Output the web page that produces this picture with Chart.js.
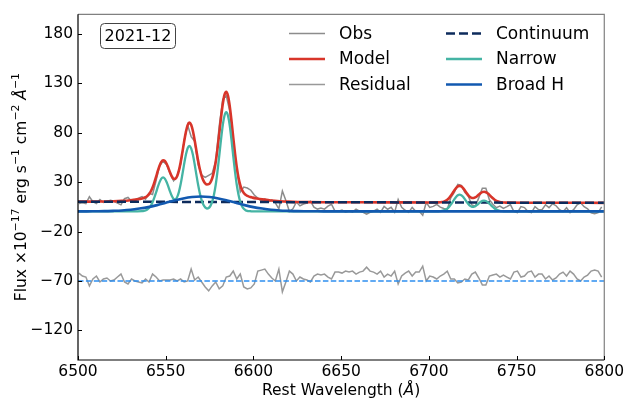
<!DOCTYPE html>
<html>
<head>
<meta charset="utf-8">
<script src="https://cdn.jsdelivr.net/npm/chart.js@4.4.1/dist/chart.umd.min.js"></script>
<style>
  html, body { margin: 0; padding: 0; background: #fff; }
  canvas { display: block; }
</style>
</head>
<body>
<canvas id="spec" width="627" height="399"></canvas>
<script>
// wavelength grids (Angstrom)
function waveGrid(start, stop, step) {
  const out = [];
  for (let w = start; w <= stop + 1e-9; w += step) out.push(+w.toFixed(2));
  return out;
}

const xTicks = [6500, 6550, 6600, 6650, 6700, 6750, 6800];
const yTicks = [-120, -70, -20, 30, 80, 130, 180];
const epochLabel = "2021-12";
const residualZero = -70;

// observed spectrum and residual (offset to -70), 2 A sampling
const obsWave = waveGrid(6500.5, 6798.5, 2);
const obsFlux = [
  8.3, 9.3, 8.3, 15.3, 10.4, 8.4, 12.4, 9.5, 10.5, 11.6,
  10.7, 8.9, 7.1, 13.3, 14.6, 10.9, 12.3, 13.8, 15.5, 12.8,
  18.9, 17.6, 31.3, 46.7, 51.3, 47.7, 38.8, 31.5, 36.1, 48.0,
  72.1, 87.8, 76.2, 71.4, 47.5, 37.2, 34.8, 37.0, 39.0, 51.5,
  86.8, 113.8, 117.6, 102.0, 65.2, 43.2, 20.1, 25.1, 24.1, 21.9,
  17.0, 14.0, 11.0, 13.0, 10.0, 12.0, 9.0, 3.0, 21.0, 11.4,
  0.3, 3.1, 10.0, 6.0, 7.9, 8.9, 10.8, 4.8, 2.8, 3.8,
  2.7, 5.7, 7.7, 0.7, 0.7, 1.7, -0.3, 0.7, -0.3, 2.7,
  0.7, -0.4, -2.4, -0.4, 0.6, 2.6, -0.4, 5.6, 2.6, 4.6,
  -0.4, 12.6, 4.6, 1.6, -0.5, 4.5, 0.5, 0.5, -3.5, 9.5,
  4.5, 5.5, 7.5, 4.7, 3.4, 2.3, 14.2, 19.6, 27.7, 26.7,
  19.7, 15.8, 7.0, 5.6, 14.4, 23.9, 23.9, 12.2, 7.7, 4.2,
  5.9, 3.5, 5.3, 7.3, 0.3, -0.7, 5.3, 4.3, 0.3, -0.7,
  5.3, 2.3, 2.2, 7.2, 4.2, 8.2, 6.2, 2.2, 0.2, 4.2,
  -0.8, 2.2, 7.2, 9.2, 5.2, 3.1, -0.9, -1.9, -0.9, 5.1
];
const residualFlux = [
  -62, -65, -66, -75, -68, -65, -71, -68, -67, -70,
  -69, -66, -63, -71, -73, -68, -70, -71, -72, -68,
  -71, -63, -66, -70, -69, -69, -69, -68, -70, -68,
  -71, -70, -58, -69, -66, -71, -76, -80, -75, -71,
  -78, -75, -66, -65, -60, -68, -63, -76, -78, -77,
  -73, -60, -59, -58, -63, -67, -70, -58, -81, -71,
  -60, -63, -70, -66, -68, -69, -71, -65, -63, -64,
  -63, -66, -68, -61, -61, -62, -60, -61, -60, -63,
  -61, -60, -56, -60, -61, -63, -60, -66, -63, -65,
  -60, -73, -65, -62, -60, -65, -61, -61, -55, -70,
  -65, -66, -68, -65, -63, -60, -68, -68, -72, -71,
  -68, -69, -63, -61, -67, -74, -74, -65, -64, -63,
  -66, -64, -66, -68, -61, -60, -66, -65, -61, -60,
  -66, -63, -63, -68, -65, -69, -67, -63, -61, -65,
  -60, -63, -68, -70, -66, -64, -60, -59, -60, -66
];

// total model
const modelWave = [6500, 6505, 6510, 6515, 6520, 6525, 6530, 6533, 6535]
  .concat(waveGrid(6536.5, 6599.5, 1))
  .concat([6602, 6605, 6610, 6615, 6620, 6625, 6630, 6640, 6660, 6680, 6700])
  .concat(waveGrid(6705.5, 6743.5, 1))
  .concat([6745, 6760, 6780, 6800]);
const modelFlux = [
  10.3, 10.3, 10.4, 10.5, 10.7, 11.1, 11.8, 12.4, 13.0,
  13.5, 14.0, 14.8, 16.1, 17.9, 20.7, 24.6, 29.6, 35.3, 41.4,
  46.7, 50.6, 52.3, 51.6, 48.7, 44.5, 39.8, 35.8, 33.5, 33.4,
  36.1, 41.7, 50.0, 60.2, 71.1, 80.9, 87.8, 90.4, 88.2, 81.8,
  72.4, 61.8, 51.5, 42.8, 36.2, 31.6, 28.8, 27.7, 28.0, 29.9,
  34.0, 40.7, 50.5, 63.5, 78.8, 94.8, 108.8, 118.4, 121.6, 117.5,
  107.0, 92.1, 75.2, 59.1, 45.2, 34.6, 27.1, 22.1, 19.1, 17.2,
  16.1, 15.4, 14.9, 14.4,
  13.5, 12.6, 11.5, 10.8, 10.3, 10.0, 9.9, 9.75, 9.66, 9.58, 9.5,
  9.57, 9.67, 9.91, 10.35, 11.09, 12.28, 13.98, 16.23, 18.86, 21.61,
  24.04, 25.72, 26.34, 25.74, 24.08, 21.72, 19.10, 16.76, 14.99, 14.04,
  13.95, 14.64, 15.90, 17.44, 18.89, 19.93, 20.28, 19.88, 18.79, 17.21,
  15.43, 13.72, 12.27, 11.17, 10.39, 9.91, 9.61, 9.46, 9.39,
  9.32, 9.26, 9.18, 9.1
];

// narrow lines ([NII], Ha, [SII])
const narrowWave = [6500, 6530]
  .concat(waveGrid(6536.5, 6599.5, 1))
  .concat([6605, 6700])
  .concat(waveGrid(6705.5, 6743.5, 1))
  .concat([6750, 6800]);
const narrowFlux = [
  0.5, 0.5,
  0.7, 0.9, 1.4, 2.3, 3.8, 6.2, 9.7, 14.3, 19.6, 25.2,
  30.1, 33.6, 34.8, 33.6, 30.3, 25.5, 20.4, 16.0, 13.1, 12.6,
  14.9, 20.0, 27.9, 37.8, 48.3, 57.8, 64.4, 66.7, 64.3, 57.7,
  48.2, 37.4, 27.1, 18.3, 11.6, 7.1, 4.5, 3.4, 3.9, 6.1,
  10.3, 17.3, 27.4, 40.8, 56.4, 72.8, 87.3, 97.3, 100.9, 97.3,
  87.3, 72.8, 56.4, 40.8, 27.4, 17.3, 10.2, 5.7, 3.1, 1.7,
  1.0, 0.7, 0.6, 0.5,
  0.5, 0.5,
  0.6, 0.7, 0.9, 1.4, 2.1, 3.3, 5.0, 7.3, 9.9, 12.7,
  15.1, 16.8, 17.4, 16.8, 15.2, 12.8, 10.2, 7.9, 6.1, 5.1,
  5.1, 5.8, 7.0, 8.6, 10.0, 11.1, 11.4, 11.0, 9.9, 8.4,
  6.6, 4.9, 3.4, 2.3, 1.6, 1.1, 0.8, 0.6, 0.6,
  0.5, 0.5
];

// broad H-alpha
const broadWave = waveGrid(6500, 6640, 5).concat([6700, 6800]);
const broadFlux = [
  0.5, 0.5, 0.6, 0.7, 1.0, 1.4, 2.1, 3.3, 4.8, 6.8,
  9.1, 11.5, 13.6, 15.0, 15.5, 15.0, 13.6, 11.5, 9.1, 6.8,
  4.8, 3.3, 2.1, 1.4, 1.0, 0.7, 0.6, 0.55, 0.5,
  0.5, 0.5
];

// power-law continuum
const contWave = [6500, 6800];
const contFlux = [10.3, 9.1];

const toPts = (xs, ys) => xs.map((x, i) => ({ x: x, y: ys[i] }));

const FONT = "'DejaVu Sans', sans-serif";
const C = {
  obs: "#8c8c8c",
  model: "#d8352a",
  resid: "#999999",
  zero: "#2e8ef0",
  cont: "#0d2b5c",
  narrow: "#45b4a4",
  broad: "#1259b0"
};

const legendItems = [
  { label: "Obs", color: C.obs, width: 1.5, dash: [], col: 0, row: 0 },
  { label: "Model", color: C.model, width: 2.6, dash: [], col: 0, row: 1 },
  { label: "Residual", color: C.resid, width: 1.5, dash: [], col: 0, row: 2 },
  { label: "Continuum", color: C.cont, width: 2.5, dash: [9, 4], col: 1, row: 0 },
  { label: "Narrow", color: C.narrow, width: 2.3, dash: [], col: 1, row: 1 },
  { label: "Broad H", color: C.broad, width: 2.6, dash: [], col: 1, row: 2 }
];

// draw text made of segments, some as superscripts or italics
function richWidth(ctx, segs, size) {
  let w = 0;
  segs.forEach(s => {
    const sz = s.sup ? size * 0.7 : size;
    ctx.font = (s.it ? "italic " : "") + sz + "px " + FONT;
    w += ctx.measureText(s.t).width;
  });
  return w;
}
function richDraw(ctx, segs, size, x, y) {
  segs.forEach(s => {
    const sz = s.sup ? size * 0.7 : size;
    ctx.font = (s.it ? "italic " : "") + sz + "px " + FONT;
    ctx.fillText(s.t, x, s.sup ? y - size * 0.42 : y);
    x += ctx.measureText(s.t).width;
  });
}

const decorations = {
  id: "decorations",
  afterDatasetsDraw(chart) {
    const { ctx, chartArea: a, scales } = chart;
    ctx.save();
    // axes frame
    ctx.lineWidth = 1.2;
    ctx.strokeStyle = "#808080";
    ctx.beginPath();
    ctx.moveTo(a.left, a.top); ctx.lineTo(a.right, a.top); ctx.lineTo(a.right, a.bottom);
    ctx.stroke();
    ctx.strokeStyle = "#000";
    ctx.beginPath();
    ctx.moveTo(a.left, a.top); ctx.lineTo(a.left, a.bottom); ctx.lineTo(a.right, a.bottom);
    ctx.stroke();
    // inward ticks
    ctx.lineWidth = 1;
    ctx.beginPath();
    xTicks.forEach(v => {
      const px = Math.round(scales.x.getPixelForValue(v)) + 0.5;
      ctx.moveTo(px, a.bottom); ctx.lineTo(px, a.bottom - 4);
    });
    yTicks.forEach(v => {
      const py = Math.round(scales.y.getPixelForValue(v)) + 0.5;
      ctx.moveTo(a.left, py); ctx.lineTo(a.left + 4, py);
    });
    ctx.stroke();

    // epoch box
    ctx.fillStyle = "#fff";
    ctx.strokeStyle = "#444";
    ctx.lineWidth = 1;
    ctx.beginPath();
    ctx.roundRect(100.5, 23.5, 75, 25, 4);
    ctx.fill(); ctx.stroke();
    ctx.fillStyle = "#000";
    ctx.font = "16px " + FONT;
    ctx.textAlign = "center";
    ctx.textBaseline = "middle";
    ctx.fillText(epochLabel, 138, 36.5);

    // legend (two columns)
    const colX = [289, 446];
    const rowY = [33.5, 59, 84.5];
    ctx.textAlign = "left";
    ctx.font = "17px " + FONT;
    legendItems.forEach(it => {
      const x0 = colX[it.col], y0 = rowY[it.row];
      ctx.strokeStyle = it.color;
      ctx.lineWidth = it.width;
      ctx.setLineDash(it.dash);
      ctx.beginPath();
      ctx.moveTo(x0, y0); ctx.lineTo(x0 + 36, y0);
      ctx.stroke();
      ctx.setLineDash([]);
      ctx.fillStyle = "#000";
      ctx.fillText(it.label, x0 + 50, y0 + 1);
    });
    ctx.restore();
  },
  afterDraw(chart) {
    const { ctx, chartArea: a } = chart;
    ctx.save();
    ctx.fillStyle = "#000";
    ctx.textAlign = "left";
    ctx.textBaseline = "alphabetic";
    // x title
    const xSegs = [{ t: "Rest Wavelength (" }, { t: "Å", it: true }, { t: ")" }];
    const xw = richWidth(ctx, xSegs, 15.5);
    richDraw(ctx, xSegs, 15.5, (a.left + a.right) / 2 - xw / 2, 395);
    // y title
    const ySegs = [
      { t: "Flux ×10" }, { t: "−17", sup: true }, { t: " erg s" }, { t: "−1", sup: true },
      { t: " cm" }, { t: "−2", sup: true }, { t: " " }, { t: "Å", it: true }, { t: "−1", sup: true }
    ];
    const yw = richWidth(ctx, ySegs, 15.5);
    ctx.translate(25.5, (a.top + a.bottom) / 2);
    ctx.rotate(-Math.PI / 2);
    richDraw(ctx, ySegs, 15.5, -yw / 2, 0);
    ctx.restore();
  }
};

const lineBase = { pointRadius: 0, fill: false, borderCapStyle: "butt" };

new Chart(document.getElementById("spec"), {
  type: "line",
  data: {
    datasets: [
      Object.assign({ label: "Obs", data: toPts(obsWave, obsFlux), borderColor: C.obs, borderWidth: 1.5, order: 7 }, lineBase),
      Object.assign({ label: "Model", data: toPts(modelWave, modelFlux), borderColor: C.model, borderWidth: 2.6, cubicInterpolationMode: "monotone", order: 6 }, lineBase),
      Object.assign({ label: "Residual", data: toPts(obsWave, residualFlux), borderColor: C.resid, borderWidth: 1.5, order: 5 }, lineBase),
      Object.assign({ label: "zero", data: toPts(contWave, [residualZero, residualZero]), borderColor: C.zero, borderWidth: 1.4, borderDash: [5.5, 2.4], order: 4 }, lineBase),
      Object.assign({ label: "Continuum", data: toPts(contWave, contFlux), borderColor: C.cont, borderWidth: 2.5, borderDash: [9, 4], order: 3 }, lineBase),
      Object.assign({ label: "Narrow", data: toPts(narrowWave, narrowFlux), borderColor: C.narrow, borderWidth: 2.3, cubicInterpolationMode: "monotone", order: 2 }, lineBase),
      Object.assign({ label: "Broad H", data: toPts(broadWave, broadFlux), borderColor: C.broad, borderWidth: 2.6, cubicInterpolationMode: "monotone", order: 1 }, lineBase)
    ]
  },
  options: {
    responsive: false,
    animation: false,
    devicePixelRatio: 1,
    layout: { padding: { top: 11, right: 21, left: 0, bottom: 0 } },
    plugins: { legend: { display: false }, tooltip: { enabled: false } },
    scales: {
      x: {
        type: "linear",
        min: 6500,
        max: 6800,
        grid: { display: false, drawTicks: false },
        border: { display: false },
        afterBuildTicks: s => { s.ticks = xTicks.map(v => ({ value: v })); },
        afterFit: s => { s.height = 39; },
        ticks: {
          color: "#000",
          font: { family: FONT, size: 15.5 },
          padding: 3,
          maxRotation: 0,
          autoSkip: false,
          callback: v => String(v)
        }
      },
      y: {
        type: "linear",
        min: -150,
        max: 200,
        grid: { display: false, drawTicks: false },
        border: { display: false },
        afterBuildTicks: s => { s.ticks = yTicks.map(v => ({ value: v })); },
        afterFit: s => { s.width = 78; },
        ticks: {
          color: "#000",
          font: { family: FONT, size: 15.5 },
          padding: 5,
          autoSkip: false,
          callback: v => (v < 0 ? "\u2212" + Math.abs(v) : String(v))
        }
      }
    }
  },
  plugins: [decorations]
});
</script>
</body>
</html>
